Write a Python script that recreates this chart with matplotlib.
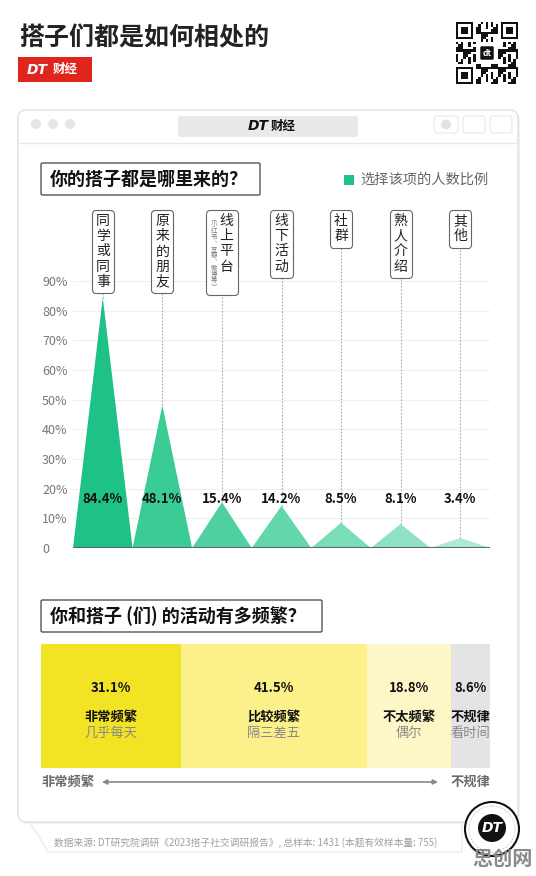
import numpy as np
import matplotlib.pyplot as plt
import matplotlib.transforms as mtransforms
from matplotlib.patches import FancyBboxPatch, Rectangle, Circle, Polygon
from matplotlib.offsetbox import TextArea, HPacker, AnnotationBbox

plt.rcParams['font.family'] = ['Noto Sans CJK SC', 'DejaVu Sans']

# 你的搭子都是哪里来的？
sources = ['同学或同事', '原来的朋友', '线上平台', '线下活动', '社群', '熟人介绍', '其他']
source_notes = ['', '', '︵小红书︑豆瓣︑微博等︶', '', '', '', '']
source_pct = [84.4, 48.1, 15.4, 14.2, 8.5, 8.1, 3.4]
tri_colors = ['#1ec186', '#3bcb95', '#50d0a0', '#63d6ab', '#7bdcb8', '#8fe2c3', '#ade9d4']
y_ticks = [0, 10, 20, 30, 40, 50, 60, 70, 80, 90]
y_labels = ['0', '10%', '20%', '30%', '40%', '50%', '60%', '70%', '80%', '90%']

# 你和搭子（们）的活动有多频繁？
freq_pct = [31.1, 41.5, 18.8, 8.6]
freq_names = ['非常频繁', '比较频繁', '不太频繁', '不规律']
freq_subs = ['几乎每天', '隔三差五', '偶尔', '看时间']
freq_colors = ['#f2e325', '#fcf08a', '#fdf7c8', '#e4e4e4']

W, H = 536, 876
fig = plt.figure(figsize=(W / 100, H / 100), dpi=100)
bg = fig.add_axes([0, 0, 1, 1])
bg.set_xlim(0, W)
bg.set_ylim(H, 0)
bg.axis('off')


def ax_rect(x0, y0, x1, y1):
    # pixel box (top-left origin) -> figure fraction
    return [x0 / W, 1 - y1 / H, (x1 - x0) / W, (y1 - y0) / H]


# ---- header ----
bg.text(19, 38, '搭子们都是如何相处的', fontsize=18, fontweight='bold', color='#222', va='center')
bg.add_patch(Rectangle((18, 57), 74, 25, fc='#e0251f', ec='none'))
bg.text(27, 69.5, 'DT', color='white', fontsize=10, fontweight='heavy', style='italic',
        va='center', family='DejaVu Sans')
bg.text(53, 69.5, '财经', color='white', fontsize=9, fontweight='bold', va='center')

# qr code (decoration)
qx, qy, qs = 456, 22, 62
n = 25
m = qs / n
bg.add_patch(Rectangle((qx, qy), qs, qs, fc='white', ec='none'))
for r in range(n):
    for c in range(n):
        in_finder = (r < 8 and c < 8) or (r < 8 and c > n - 9) or (r > n - 9 and c < 8)
        in_logo = 8 <= r <= 16 and 8 <= c <= 16
        if in_finder or in_logo:
            continue
        if (r * r + 3 * c + r * c) % 7 < 3:
            bg.add_patch(Rectangle((qx + c * m, qy + r * m), m, m, fc='#111', ec='none'))
for fr, fc_ in [(0, 0), (0, n - 7), (n - 7, 0)]:
    bg.add_patch(Rectangle((qx + fc_ * m, qy + fr * m), 7 * m, 7 * m, fc='#111', ec='none'))
    bg.add_patch(Rectangle((qx + (fc_ + 1) * m, qy + (fr + 1) * m), 5 * m, 5 * m, fc='white', ec='none'))
    bg.add_patch(Rectangle((qx + (fc_ + 2) * m, qy + (fr + 2) * m), 3 * m, 3 * m, fc='#111', ec='none'))
bg.add_patch(FancyBboxPatch((qx + 9.5 * m, qy + 9.5 * m), 6 * m, 6 * m,
                            boxstyle='round,pad=0,rounding_size=2', fc='#111', ec='white', lw=1))
bg.text(qx + qs / 2, qy + qs / 2, 'dt', color='white', fontsize=6, fontweight='bold',
        ha='center', va='center')

# ---- window panel ----
bg.add_patch(FancyBboxPatch((20, 112), 500, 712, boxstyle='round,pad=0,rounding_size=8',
                            fc='#f1f1f1', ec='none'))
bg.add_patch(FancyBboxPatch((18, 110), 500, 712, boxstyle='round,pad=0,rounding_size=8',
                            fc='white', ec='#e0e0e0', lw=1))
bg.plot([18, 518], [143, 143], color='#e8e8e8', lw=1)
for cx in (36, 53, 70):
    bg.add_patch(Circle((cx, 124), 5, fc='#e6e6e6', ec='none'))
bg.add_patch(FancyBboxPatch((178, 116), 180, 21, boxstyle='round,pad=0,rounding_size=2',
                            fc='#e9e9e9', ec='none'))
bg.text(258, 126.5, 'DT', fontsize=10, fontweight='heavy', style='italic', color='#111',
        ha='center', va='center', family='DejaVu Sans')
bg.text(283, 126.5, '财经', fontsize=9, fontweight='bold', color='#111', ha='center', va='center')
for x0, w in [(434, 24), (463, 22), (490, 22)]:
    bg.add_patch(FancyBboxPatch((x0, 116), w, 17, boxstyle='round,pad=0,rounding_size=3',
                                fc='none', ec='#e8e8e8', lw=0.8))
bg.add_patch(Circle((446, 124.5), 5, fc='#e2e2e2', ec='none'))

# ---- section 1 ----
bg.add_patch(FancyBboxPatch((41, 163), 219, 32, boxstyle='round,pad=0,rounding_size=1.5',
                            fc='white', ec='#555', lw=1))
bg.text(50, 179.5, '你的搭子都是哪里来的？', fontsize=13, fontweight='bold', color='#111', va='center')
bg.add_patch(Rectangle((344, 175), 10, 10, fc=tri_colors[0], ec='none'))
bg.text(360, 180, '选择该项的人数比例', fontsize=10.3, color='#666', va='center')

ax = fig.add_axes(ax_rect(73, 281, 490, 548))
ax.patch.set_alpha(0)
ax.set_xlim(-0.5, len(sources) - 0.5)
ax.set_ylim(0, 90)
for i, v in enumerate(source_pct):
    ax.fill([i - 0.5, i, i + 0.5], [0, v, 0], color=tri_colors[i], lw=0, zorder=3)
    ax.vlines(i, v, 105, colors='#aaaaaa', linestyles=(0, (1.5, 1.5)), lw=0.8,
              clip_on=False, zorder=2)
    ax.text(i, 16.5, f'{v}%', ha='center', va='center', fontsize=9.5,
            fontweight='bold', color='#111', zorder=4)

    main = TextArea('\n'.join(sources[i]),
                    textprops=dict(fontsize=10, linespacing=1.1, color='#222'))
    kids = [main]
    if source_notes[i]:
        note = TextArea('\n'.join(source_notes[i]),
                        textprops=dict(fontsize=4.6, linespacing=0.7, color='#777'))
        kids = [note, main]
    pack = HPacker(children=kids, align='top', pad=0, sep=2)
    ab = AnnotationBbox(pack, (i, 112.5), box_alignment=(0.5, 1), frameon=True, pad=0.25,
                        bboxprops=dict(boxstyle='round,pad=0.3,rounding_size=0.25',
                                       fc='white', ec='#666', lw=0.8),
                        annotation_clip=False, zorder=6)
    ax.add_artist(ab)

ax.set_yticks(y_ticks)
ax.set_yticklabels(y_labels)
ax.yaxis.grid(True, color='#efefef', lw=0.8)
ax.set_axisbelow(True)
ax.tick_params(axis='y', length=0, pad=22.3, labelsize=9, labelcolor='#777')
for lbl in ax.get_yticklabels():
    lbl.set_horizontalalignment('left')
ax.set_xticks([])
for s in ax.spines.values():
    s.set_visible(False)
ax.axhline(0, color='#5d6b65', lw=1.5, zorder=5)

# ---- section 2 ----
bg.add_patch(FancyBboxPatch((41, 600), 281, 32, boxstyle='round,pad=0,rounding_size=1.5',
                            fc='white', ec='#555', lw=1))
bg.text(50, 616, '你和搭子 (们) 的活动有多频繁？', fontsize=13, fontweight='bold',
        color='#111', va='center')

bx = fig.add_axes(ax_rect(41, 644, 490, 768))
lefts = np.concatenate([[0], np.cumsum(freq_pct)[:-1]])
bx.barh(0, freq_pct, left=lefts, height=1, color=freq_colors, lw=0)
bx.set_xlim(0, sum(freq_pct))
bx.set_ylim(-0.5, 0.5)
bx.axis('off')
tr = mtransforms.blended_transform_factory(bx.transData, bx.transAxes)
for left, w, name, sub in zip(lefts, freq_pct, freq_names, freq_subs):
    cx = left + w / 2
    bx.text(cx, 0.645, f'{w}%', transform=tr, ha='center', va='center', fontsize=9.5,
            fontweight='bold', color='#111')
    bx.text(cx, 0.41, name, transform=tr, ha='center', va='center', fontsize=9.5,
            fontweight='bold', color='#111')
    bx.text(cx, 0.28, sub, transform=tr, ha='center', va='center', fontsize=9.5, color='#888')

bg.text(41, 782, '非常频繁', fontsize=9.5, fontweight='bold', color='#6b6b6b', va='center')
bg.text(490, 782, '不规律', fontsize=9.5, fontweight='bold', color='#6b6b6b',
        va='center', ha='right')
bg.annotate('', xy=(438, 782), xytext=(102, 782),
            arrowprops=dict(arrowstyle='<|-|>', color='#888', lw=1.2, mutation_scale=7,
                            shrinkA=0, shrinkB=0))

# ---- footer ----
bg.add_patch(Polygon([(30, 822), (48, 852), (462, 852), (462, 822)], closed=True,
                     fc='white', ec='#ececec', lw=1, zorder=0.5))
bg.text(54, 843, '数据来源: DT研究院调研《2023搭子社交调研报告》, 总样本: 1431 (本题有效样本量: 755)',
        fontsize=7, color='#a0a0a0', va='center')

bg.add_patch(Circle((492, 829), 27, fc='white', ec='#111', lw=1.5))
bg.add_patch(Circle((492, 829), 23, fill=False, ec='#aaa', lw=0.6, ls=':'))
bg.add_patch(Circle((492, 828), 14, fc='#111', ec='none'))
bg.text(492, 828, 'DT', color='white', fontsize=10, fontweight='heavy', style='italic',
        ha='center', va='center', family='DejaVu Sans')
bg.text(502, 858, '思创网', fontsize=14.5, fontweight='bold', color='#8a8a8a',
        ha='center', va='center')

fig.savefig('out.png', dpi=100)
